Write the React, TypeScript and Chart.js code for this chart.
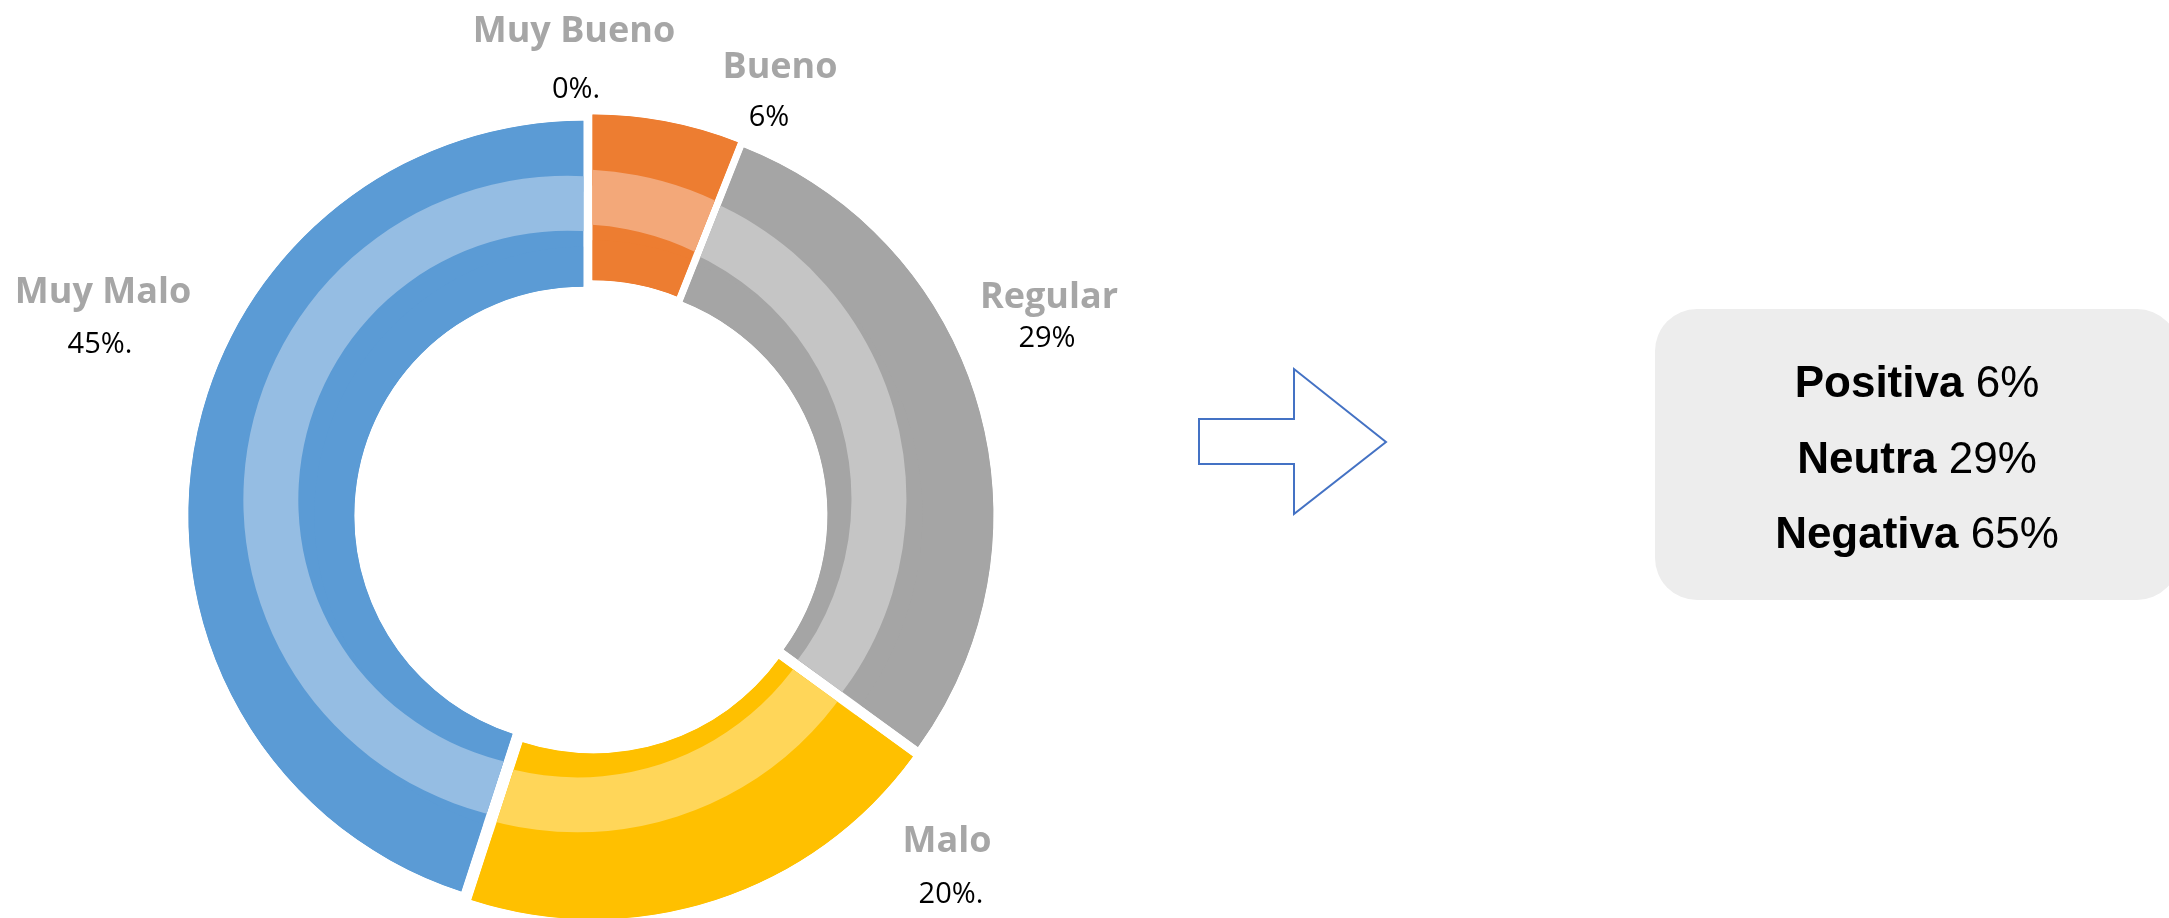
import React, { useEffect, useRef } from "react";
import { Chart, registerables } from "chart.js";

Chart.register(...registerables);

// ---- data ----
const CATEGORIES = ["Muy Bueno", "Bueno", "Regular", "Malo", "Muy Malo"];
const VALUES = [0, 6, 29, 20, 45];
const VALUE_SUFFIX = [".", "", "", ".", "."];
const DARK_COLORS = ["#4472C4", "#ED7D31", "#A5A5A5", "#FFC000", "#5B9BD5"];
const LIGHT_COLORS = ["#8FAADC", "#F3A879", "#C5C5C5", "#FFD659", "#95BDE3"];
const SUMMARY_LABELS = ["Positiva", "Neutra", "Negativa"];
const SUMMARY_VALUES = [6, 29, 65];

// ---- layout ----
const CANVAS_W = 1182;
const CANVAS_H = 918;
const OUTER_RADIUS = 395;
const EXPLODE = 7.7;
const LIGHT_SHIFT_X = -16;
const LIGHT_SHIFT_Y = -16;
const LIGHT_ANGLE_PAD = 0.25;
// label anchors relative to the doughnut centre (baseline, centred)
const NAME_OFFSETS = [
  [-17, -475],
  [189, -439],
  [458, -209],
  [356, 335],
  [-488, -214],
];
const VALUE_OFFSETS = [
  [-15, -419],
  [178, -391],
  [456, -170],
  [360, 386],
  [-491, -164],
];

const ringPlugin = {
  id: "explodedRings",
  beforeDatasetsDraw(chart: any) {
    const ctx = chart.ctx;
    const outer = chart.getDatasetMeta(0).data;
    const light = chart.getDatasetMeta(1).data;
    const inner = chart.getDatasetMeta(2).data;
    for (let i = 0; i < outer.length; i++) {
      const o: any = outer[i];
      const l: any = light[i];
      const n: any = inner[i];
      const p = o.getProps(["x", "y", "startAngle", "endAngle", "outerRadius"]);
      if (p.endAngle - p.startAngle <= 0) continue;
      const innerR = n.getProps(["innerRadius"]).innerRadius;
      const mid = (p.startAngle + p.endAngle) / 2;
      ctx.save();
      ctx.translate(Math.cos(mid) * EXPLODE, Math.sin(mid) * EXPLODE);
      ctx.beginPath();
      ctx.arc(p.x, p.y, p.outerRadius, p.startAngle, p.endAngle);
      ctx.arc(p.x, p.y, innerR, p.endAngle, p.startAngle, true);
      ctx.closePath();
      ctx.fillStyle = DARK_COLORS[i];
      ctx.fill();
      ctx.clip();
      o.draw(ctx);
      n.draw(ctx);
      // light band: shifted, widened in angle and clipped to the slice
      const s0 = l.startAngle;
      const e0 = l.endAngle;
      l.startAngle = s0 - LIGHT_ANGLE_PAD;
      l.endAngle = e0 + LIGHT_ANGLE_PAD;
      ctx.translate(LIGHT_SHIFT_X, LIGHT_SHIFT_Y);
      l.draw(ctx);
      l.startAngle = s0;
      l.endAngle = e0;
      ctx.restore();
    }
    return false;
  },
  afterDraw(chart: any) {
    const ctx = chart.ctx;
    const el: any = chart.getDatasetMeta(0).data[0];
    const { x, y } = el.getProps(["x", "y"]);
    ctx.save();
    ctx.textAlign = "center";
    ctx.textBaseline = "alphabetic";
    for (let i = 0; i < CATEGORIES.length; i++) {
      ctx.font = "bold 36px 'Open Sans'";
      ctx.fillStyle = "#A6A6A6";
      ctx.fillText(CATEGORIES[i], x + NAME_OFFSETS[i][0], y + NAME_OFFSETS[i][1]);
      ctx.font = "29px 'Open Sans'";
      ctx.fillStyle = "#000000";
      ctx.fillText(
        `${VALUES[i]}%${VALUE_SUFFIX[i]}`,
        x + VALUE_OFFSETS[i][0],
        y + VALUE_OFFSETS[i][1]
      );
    }
    ctx.restore();
  },
};

function Doughnut() {
  const ref = useRef<HTMLCanvasElement | null>(null);
  useEffect(() => {
    if (!ref.current) return;
    const chart = new Chart(ref.current, {
      type: "doughnut",
      data: {
        labels: CATEGORIES,
        datasets: [
          { data: VALUES, backgroundColor: DARK_COLORS, borderWidth: 0, weight: 71 },
          { data: VALUES, backgroundColor: LIGHT_COLORS, borderWidth: 0, weight: 55 },
          { data: VALUES, backgroundColor: DARK_COLORS, borderWidth: 0, weight: 40 },
        ],
      },
      options: {
        responsive: false,
        animation: false,
        events: [],
        radius: OUTER_RADIUS,
        cutout: "58%",
        layout: { padding: { top: 116, left: 0, right: 0, bottom: 0 } },
        plugins: {
          legend: { display: false },
          tooltip: { enabled: false },
          title: { display: false },
        },
      } as any,
      plugins: [ringPlugin as any],
    });
    return () => chart.destroy();
  }, []);
  return (
    <canvas
      ref={ref}
      width={CANVAS_W}
      height={CANVAS_H}
      style={{ position: "absolute", left: 0, top: 0, width: CANVAS_W, height: CANVAS_H }}
    />
  );
}

export default function App() {
  const lineTops = [360, 436, 511];
  return (
    <div
      style={{
        position: "fixed",
        left: 0,
        top: 0,
        width: 2169,
        height: 918,
        overflow: "hidden",
        background: "#ffffff",
      }}
    >
      <Doughnut />
      <svg
        width={2169}
        height={918}
        style={{ position: "absolute", left: 0, top: 0, pointerEvents: "none" }}
      >
        <polygon
          points="1199,419 1294,419 1294,369 1386,442 1294,514 1294,464 1199,464"
          fill="#ffffff"
          stroke="#4472C4"
          strokeWidth={2}
        />
      </svg>
      <div
        style={{
          position: "absolute",
          left: 1655,
          top: 309,
          width: 524,
          height: 291,
          borderRadius: 42,
          background: "#EDEDED",
        }}
      />
      {SUMMARY_LABELS.map((lab, i) => (
        <div
          key={lab}
          style={{
            position: "absolute",
            left: 1655,
            width: 524,
            top: lineTops[i],
            textAlign: "center",
            fontFamily: "'Liberation Sans', Arial, sans-serif",
            fontSize: 44,
            lineHeight: "44px",
            color: "#000",
            whiteSpace: "nowrap",
          }}
        >
          <span style={{ fontWeight: "bold" }}>{lab}</span> {SUMMARY_VALUES[i]}%
        </div>
      ))}
    </div>
  );
}
